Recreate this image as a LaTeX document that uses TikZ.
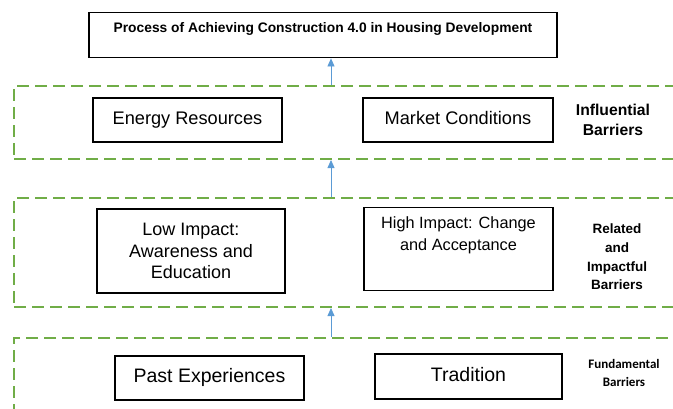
\documentclass[tikz,border=0pt]{standalone}
\usepackage{fontspec}
\setmainfont{Liberation Sans}
\newfontfamily\calib{Carlito}
\usetikzlibrary{arrows.meta,calc}
\definecolor{dgreen}{RGB}{112,173,71}
\definecolor{ablue}{RGB}{91,155,213}
\begin{document}
\begin{tikzpicture}[x=1pt,y=-1pt,
  box/.style={draw=black,line width=1.4pt,inner sep=0pt,align=center},
  group/.style={draw=dgreen,line width=2pt,dash pattern=on 12pt off 6pt,inner sep=0pt},
  lab/.style={align=center,font=\bfseries},
  arr/.style={draw=ablue,line width=0.8pt,-{Triangle[length=8pt,width=7pt]}}]
\useasboundingbox (0,0) rectangle (673,408);
\clip (0,0) rectangle (673,408);
% groups
\node[group,minimum width=700pt,minimum height=73pt] (g1) at (364,122.5) {};
\node[group,minimum width=700pt,minimum height=109pt] (g2) at (364,252.5) {};
\node[group,minimum width=700pt,minimum height=100pt] (g3) at (364,388) {};
% title
\node[box,anchor=north,minimum width=468pt,text height=20pt,text depth=25pt,font=\bfseries\fontsize{13.8pt}{15pt}\selectfont] (title) at (323,12) {Process of Achieving Construction 4.0 in Housing Development};
% row 1
\node[box,minimum width=189pt,minimum height=44pt,text height=13pt,text depth=4pt,font=\fontsize{18.2pt}{21pt}\selectfont] (energy) at (187.5,120) {Energy Resources};
\node[box,minimum width=190pt,minimum height=44pt,text height=13pt,text depth=4pt,font=\fontsize{18.2pt}{21pt}\selectfont] (market) at (458,120) {Market Conditions};
\node[lab,font=\bfseries\fontsize{15.7pt}{20pt}\selectfont] (l1) at (613,120) {Influential\\Barriers};
% row 2
\node[box,minimum width=188pt,minimum height=84pt,font=\fontsize{18pt}{21.5pt}\selectfont] (low) at (191,251) {Low Impact:\\Awareness and\\Education};
\node[box,anchor=north,minimum width=189pt,text height=43pt,text depth=40pt,font=\fontsize{16.3pt}{22pt}\selectfont] (high) at (458.5,207) {High Impact: Change\\and Acceptance};
\node[lab,font=\bfseries\fontsize{13.5pt}{18.7pt}\selectfont] (l2) at (617,257) {Related\\and\\Impactful\\Barriers};
% row 3
\node[box,minimum width=189pt,minimum height=44pt,text height=14pt,text depth=4.5pt,font=\fontsize{19.5pt}{23pt}\selectfont] (past) at (209.5,378) {Past Experiences};
\node[box,minimum width=187pt,minimum height=45pt,text height=14pt,text depth=4.5pt,font=\fontsize{19.5pt}{23pt}\selectfont] (trad) at (468.5,376.5) {Tradition};
\node[lab,font=\calib\bfseries\fontsize{13pt}{18pt}\selectfont] (l3) at (624,373) {Fundamental\\Barriers};
% arrows
\coordinate (ax) at (331,0);
\draw[arr] (g1.north -| ax) -- (title.south -| ax);
\draw[arr] (g2.north -| ax) -- (g1.south -| ax);
\draw[arr] (g3.north -| ax) -- (g2.south -| ax);
\end{tikzpicture}
\end{document}
